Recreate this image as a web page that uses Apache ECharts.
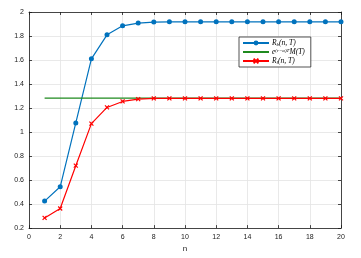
<!DOCTYPE html>
<html><head><meta charset="utf-8">
<script src="https://cdn.jsdelivr.net/npm/echarts@6/dist/echarts.min.js"></script>
<style>html,body{margin:0;padding:0;background:#fff}#c{width:361px;height:258px}</style>
</head><body><div id="c"></div>
<script>
const nValues = [1,2,3,4,5,6,7,8,9,10,11,12,13,14,15,16,17,18,19,20];
const rbValues = [0.425,0.544,1.076,1.61,1.81,1.885,1.908,1.916,1.918,1.918,1.918,1.918,1.918,1.918,1.918,1.918,1.918,1.918,1.918,1.918];
const mValues = [1.282,1.282,1.282,1.282,1.282,1.282,1.282,1.282,1.282,1.282,1.282,1.282,1.282,1.282,1.282,1.282,1.282,1.282,1.282,1.282];
const rlValues = [0.285,0.363,0.72,1.07,1.205,1.255,1.274,1.28,1.28,1.28,1.28,1.28,1.28,1.28,1.28,1.28,1.28,1.28,1.28,1.28];
const xTicks = [0,2,4,6,8,10,12,14,16,18,20];
const yTicks = [0.2,0.4,0.6,0.8,1,1.2,1.4,1.6,1.8,2];
const names = ['Rb','M','Rl'];

const pair = a => nValues.map((n,i)=>[n,a[i]]);
const txt = '#1a1a1a';
const chart = echarts.init(document.getElementById('c'), null, {renderer:'canvas'});
const axisCommon = {
  axisLine:{show:true,onZero:false,lineStyle:{color:txt,width:0.8}},
  axisTick:{show:true,inside:true,length:3,lineStyle:{color:txt,width:0.8}},
};
chart.setOption({
  animation:false,
  backgroundColor:'#fff',
  grid:{left:29,right:20,top:12,bottom:28},
  legend:{
    orient:'vertical', left:239, top:37,
    backgroundColor:'#fff', borderColor:'#262626', borderWidth:0.8, borderRadius:0,
    padding:[2,6,2,3], itemGap:1, itemWidth:26, itemHeight:6,
    data:[{name:'Rb'},{name:'M',itemStyle:{opacity:0}},{name:'Rl'}],
    formatter: function(name){
      if(name==='Rb') return '{i|R}{sub|b}{i|(n, T)}';
      if(name==='M') return '{i|e}{sup|(r−α)T}{i|M(T)}';
      return '{i|R}{sub|l}{i|(n, T)}';
    },
    textStyle:{fontFamily:'Liberation Serif',fontSize:7,color:'#000',padding:[0,0,0,-2],
      rich:{
        i:{fontFamily:'Liberation Serif',fontStyle:'italic',fontSize:7.5,color:'#000'},
        sub:{fontFamily:'Liberation Serif',fontStyle:'italic',fontSize:5,color:'#000',verticalAlign:'bottom',padding:[3,0,0,0]},
        sup:{fontFamily:'Liberation Serif',fontStyle:'italic',fontSize:5,color:'#000',verticalAlign:'top',padding:[0,0,3,0]}
      }}
  },
  xAxis:[{
    type:'value', min:0, max:20, interval:2, name:'n', nameLocation:'middle', nameGap:15,
    nameTextStyle:{fontFamily:'Liberation Sans',fontSize:8,color:txt},
    ...axisCommon,
    axisLabel:{fontFamily:'Liberation Sans',fontSize:7,color:txt,margin:5},
    splitLine:{show:true,lineStyle:{color:'#e3e3e3',width:0.8}}
  },{
    type:'value', position:'top', min:0, max:20, interval:2,
    ...axisCommon, axisLabel:{show:false}, splitLine:{show:false}
  }],
  yAxis:[{
    type:'value', min:0.2, max:2, interval:0.2,
    ...axisCommon,
    axisLabel:{fontFamily:'Liberation Sans',fontSize:7,color:txt,margin:5,
      formatter:v=>String(Math.round(v*10)/10)},
    splitLine:{show:true,lineStyle:{color:'#e3e3e3',width:0.8}}
  },{
    type:'value', position:'right', min:0.2, max:2, interval:0.2,
    ...axisCommon, axisLabel:{show:false}, splitLine:{show:false}
  }],
  series:[
    {name:'Rb',type:'line',data:pair(rbValues),symbol:'circle',symbolSize:5,
     lineStyle:{color:'#0072BD',width:1.2},itemStyle:{color:'#0072BD'}},
    {name:'M',type:'line',data:pair(mValues),symbol:'none',showSymbol:false,
     lineStyle:{color:'#1f8a1f',width:1.2},itemStyle:{color:'#1f8a1f'}},
    {name:'Rl',type:'line',data:pair(rlValues),symbol:'path://M0,0L10,10M10,0L0,10',symbolSize:4,
     lineStyle:{color:'#ff0000',width:1.2},itemStyle:{color:'#ff0000',borderColor:'#ff0000',borderWidth:1.2}}
  ]
});
</script></body></html>
